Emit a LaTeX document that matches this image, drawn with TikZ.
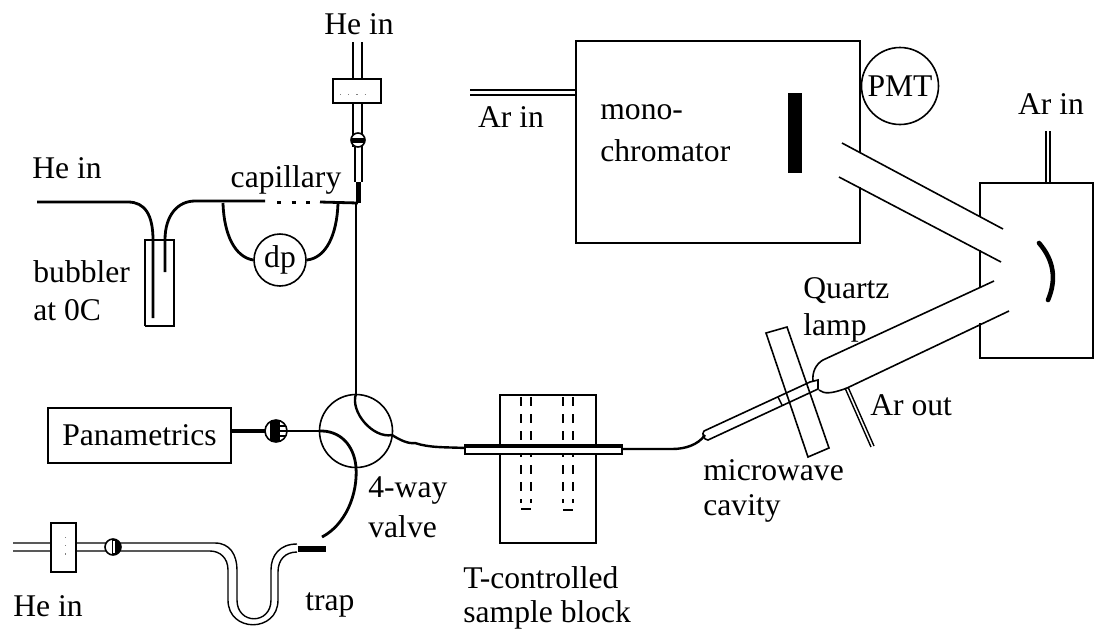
\documentclass[tikz,border=0pt]{standalone}
\usepackage{fontspec}
\setmainfont{Liberation Serif}
\tikzset{
    thinline/.style={line width=0.8pt},
    hairline/.style={line width=0.7pt},
    gasline/.style={line width=1.4pt},
    heavyline/.style={line width=2.2pt},
    label/.style={inner sep=0pt, font=\fontsize{15.8}{18}\selectfont},
    ballvalve/.style={circle, draw, thinline, fill=white, inner sep=0pt, minimum size=#1},
    instrument/.style={draw, thinline, inner sep=0pt, font=\fontsize{15.8}{18}\selectfont}
}

\begin{document}
\begin{tikzpicture}[x=0.5pt, y=-0.5pt]
    \useasboundingbox (0,0) rectangle (1094,634);

    \draw[thinline]
    (576,41) rectangle (860,243)
    ;
    \fill[white] (858,153) rectangle (862,187);
    \fill[black] (788,93) rectangle (802,173);
    \node[instrument, circle, minimum size=38.5pt, fill=white] (pmt) at (900,86) {PMT};
    \draw[hairline]
    (470,90) to (576,90)
    (470,95) to (576,95)
    ;

    \draw[thinline]
    (980,217) to (980,183)
    to (1093,183)
    to (1093,358)
    to (980,358)
    to (980,323)
    (980,250) to (980,287)
    ;
    \draw[thinline]
    (842,143) to (1003,229)
    (839,177) to (1001,262)
    ;
    \draw[hairline]
    (1046,131) to (1046,183)
    (1050,131) to (1050,183)
    ;
    \draw[line width=2.3pt, line cap=round] (1039,243) to [bend left=32] (1048,300);

    \draw[thinline]
    (994,281) to (823,360)
    .. controls (816,364) and (812,372) .. (813,381)
    (819,390) .. controls (824,394) and (831,394) .. (847,388)
    to (1009,311)
    ;
    \draw[thinline]
    (766,333) to (787,327)
    to (829,448)
    to (808,457)
    to cycle
    ;
    \draw[thinline]
    (704,431) to (810,382)
    to (818,380)
    to (818,389)
    to (708,440)
    to [bend left=70] (704,431)
    ;
    \draw[hairline] (778,397) to (782,405);
    \draw[hairline]
    (845,388) to (871,447)
    (848,387) to (874,446)
    ;

    \draw[thinline] (500,395) rectangle (596,543);
    \foreach \dashx in {521, 531, 563, 573}{
        \draw[line width=0.9pt, dash pattern=on 4.5pt off 4pt] (\dashx,397) to (\dashx,503);
    }
    \draw[gasline] (521,509) to (531,509);
    \draw[gasline] (563,510) to (573,510);
    \draw[fill=white, thinline] (465,445) rectangle (622,454);
    \draw[line width=1.7pt] (466,446) to (622,446);
    \draw[line width=1.2pt] (466,454) to (622,454);

    \node[instrument, minimum width=91.5pt, minimum height=27.5pt] (panametrics) at (139.5,435.5) {Panametrics};
    \node[circle, draw, thinline, minimum size=36.5pt, inner sep=0pt] (valve) at (356,431) {};
    \node[instrument, circle, minimum size=26pt, fill=white] (dp) at (280,260) {dp};

    \coordinate (hein) at (37,202);
    \coordinate (dipin) at (153,318);
    \coordinate (dipout) at (165,272);
    \coordinate (capstart) at (195,201);
    \coordinate (junction) at (358,203);

    \draw[thinline] (145,326) to (145,240) to (174,240) to (174,326) to (145,326);
    \draw[gasline]
    (hein) to (128,202)
    .. controls (145,202) and (153,215) .. (153,240)
    to (dipin)
    ;
    \draw[gasline]
    (dipout) to (165,240)
    .. controls (165,215) and (178,201) .. (capstart)
    to (265,201)
    (320,202) to (junction)
    ;
    \draw[line width=1.5pt, dash pattern=on 2pt off 5.25pt] (277,202) to (310,202);
    \draw[gasline]
    (223,203) .. controls (224,235) and (235,257) .. (dp.west)
    (338,203) .. controls (337,235) and (326,258) .. (dp.east)
    ;

    \draw[hairline]
    (353,42) to (353,147)
    (362,42) to (362,147)
    (355,147) to (355,182)
    (362,147) to (362,182)
    ;
    \node[draw, thinline, fill=white, minimum width=24pt, minimum height=12pt, inner sep=0pt] (topbox) at (357,91) {};
    \draw[gray, line width=0.5pt, dash pattern=on 0.6pt off 3.5pt] (340,94) to (368,94);
    \node[ballvalve=7pt] (topball) at (358,140) {};
    \begin{scope}
        \clip (topball) circle (3.5pt);
        \fill (350,137.5) rectangle (366,142.5);
    \end{scope}
    \draw[heavyline] (358.5,182) to (358.5,203);
    \draw[line width=1.2pt] (356,203) to (valve.north);

    \draw[gasline, line width=1.2pt]
    (valve.north) to [bend right=60, looseness=0.9] (392,435)
    .. controls (400,440) and (408,444) .. (415,443)
    .. controls (430,448) and (445,447) .. (465,448)
    ;
    \draw[gasline, line width=1.2pt]
    (622,449) to (672,449)
    .. controls (685,449) and (698,445) .. (705,435)
    ;
    \coordinate (panmid) at (276,431);
    \draw[gasline, line width=1.6pt] (panametrics.east |- panmid) to (panmid);
    \draw[gasline, line width=1.2pt] (panmid) to (valve.west);
    \node[ballvalve=11pt] (panball) at (panmid) {};
    \begin{scope}
        \clip (panball) circle (5.5pt);
        \fill (270,419) rectangle (280,443);
        \draw[hairline] (280,426) to (288,426) (280,431) to (288,431) (280,436) to (288,436);
    \end{scope}
    \draw[line width=1.4pt]
    (valve.west) .. controls (340,430) and (354,445) .. (356,467)
    .. controls (358,495) and (345,525) .. (322,537)
    ;

    \draw[hairline]
    (13,543) to (215,543)
    .. controls (230,543) and (237,555) .. (237,570)
    to (237,600)
    .. controls (237,625) and (271,625) .. (271,600)
    to (271,570)
    .. controls (271,555) and (280,544) .. (297,544)
    ;
    \draw[hairline]
    (13,551) to (210,551)
    .. controls (220,551) and (228,558) .. (228,570)
    to (228,600)
    .. controls (228,633) and (278,633) .. (278,600)
    to (278,572)
    .. controls (278,560) and (285,552) .. (297,552)
    ;
    \node[draw, thinline, fill=white, minimum width=12.5pt, minimum height=24.5pt, inner sep=0pt] (leftbox) at (63.5,547.5) {};
    \draw[gray, line width=0.5pt, dash pattern=on 0.6pt off 3.5pt] (65,537) to (65,558);
    \node[ballvalve=8pt] (leftball) at (113,547) {};
    \begin{scope}
        \clip (leftball) circle (4pt);
        \fill (112,538) rectangle (121,556);
        \fill[white] (113,541) rectangle (115,553);
    \end{scope}
    \fill (298,546) rectangle (326,552);

    \node[label] (hetop) at (359,24) {He in};
    \node[label, anchor=west] (heleft) at (32,168) {He in};
    \node[label] (capillary) at (286,180) {capillary};
    \node[label, anchor=west] (bubbler) at (33,272) {bubbler};
    \node[label, anchor=west] (bubbleat) at (33,310) {at 0C};
    \node[label] (arleft) at (511,117) {Ar in};
    \node[label, anchor=west] (mono) at (600,112) {mono-};
    \node[label, anchor=west] (chrom) at (600,151) {chromator};
    \node[label] (arright) at (1051,104) {Ar in};
    \node[label, anchor=west] (quartz) at (803,291) {Quartz};
    \node[label, anchor=west] (lamp) at (803,328) {lamp};
    \node[label, anchor=west] (arout) at (870,405) {Ar out};
    \node[label, anchor=west] (microwave) at (703,470) {microwave};
    \node[label, anchor=west] (cavity) at (703,508) {cavity};
    \node[label, anchor=west] (tcontrol) at (463,578) {T-controlled};
    \node[label, anchor=west] (sampleblock) at (463,615) {sample block};
    \node[label, anchor=west] (fourway) at (368,490) {4-way};
    \node[label, anchor=west] (valvetext) at (368,527) {valve};
    \node[label, anchor=west] (hebottom) at (13,606) {He in};
    \node[label, anchor=west] (traptext) at (305,605) {trap};
\end{tikzpicture}
\end{document}
